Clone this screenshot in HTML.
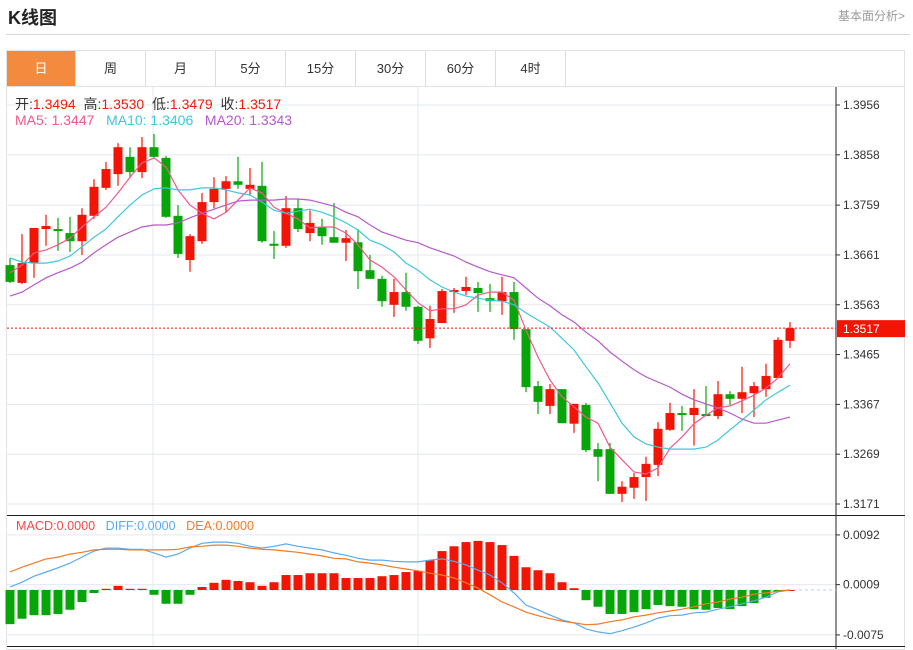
<!DOCTYPE html>
<html><head><meta charset="utf-8"><style>
body{margin:0;background:#fff;width:913px;height:649px;overflow:hidden;font-family:"Liberation Sans","Noto Sans CJK SC",sans-serif;position:relative}
.t{position:absolute}
.tab{position:absolute;top:51px;height:35px;width:70px;border-right:1px solid #ddd;text-align:center;line-height:35px;font-size:13px;color:#333;box-sizing:border-box}
</style></head><body>
<div class="t" style="left:8px;top:4px;font-size:18px;font-weight:bold;color:#222">K线图</div>
<div class="t" style="left:838px;top:7px;font-size:12px;color:#999">基本面分析&gt;</div>
<div class="t" style="left:6px;top:34px;width:904px;height:1px;background:#d6d6d6"></div>
<div class="t" style="left:6px;top:50px;width:899px;height:600px;border:1px solid #e2e2e2;box-sizing:border-box"></div>
<div class="t" style="left:7px;top:86px;width:898px;height:1px;background:#e2e2e2"></div>
<div class="tab" style="left:7px;width:69px;background:#f28b3d;color:#fff">日</div>
<div class="tab" style="left:76px">周</div>
<div class="tab" style="left:146px">月</div>
<div class="tab" style="left:216px">5分</div>
<div class="tab" style="left:286px">15分</div>
<div class="tab" style="left:356px">30分</div>
<div class="tab" style="left:426px">60分</div>
<div class="tab" style="left:496px">4时</div>
<svg id="c" class="t" style="left:0;top:0" width="913" height="649"></svg>
<div class="t" style="left:15px;top:94px;font-size:14px;color:#333">开:<span style="color:#f21a0a">1.3494</span>&nbsp;&nbsp;高:<span style="color:#f21a0a">1.3530</span>&nbsp;&nbsp;低:<span style="color:#f21a0a">1.3479</span>&nbsp;&nbsp;收:<span style="color:#f21a0a">1.3517</span></div>
<div class="t" style="left:15px;top:112px;font-size:14px"><span style="color:#f0598a">MA5: 1.3447</span>&nbsp;&nbsp;&nbsp;<span style="color:#3ec6de">MA10: 1.3406</span>&nbsp;&nbsp;&nbsp;<span style="color:#b659c9">MA20: 1.3343</span></div>
<div class="t" style="left:16px;top:519px;font-size:12.6px"><span style="color:#f24a4a">MACD:0.0000</span>&nbsp;&nbsp;&nbsp;<span style="color:#5aaaf0">DIFF:0.0000</span>&nbsp;&nbsp;&nbsp;<span style="color:#f57a24">DEA:0.0000</span></div>
<script>
const opens=[13641,13606,13645,13712,13712,13704,13688,13738,13793,13820,13854,13824,13873,13852,13738,13651,13688,13765,13791,13806,13791,13797,13683,13679,13753,13704,13716,13696,13685,13686,13631,13614,13563,13588,13559,13497,13527,13588,13590,13596,13576,13570,13588,13515,13403,13364,13397,13329,13366,13279,13279,13191,13203,13224,13248,13317,13350,13346,13348,13344,13387,13378,13389,13397,13419,13492];
const highs=[13655,13702,13714,13740,13734,13736,13753,13810,13844,13881,13873,13893,13899,13856,13759,13702,13783,13814,13816,13854,13832,13844,13708,13777,13771,13749,13732,13763,13710,13712,13661,13620,13614,13626,13561,13561,13594,13596,13618,13608,13604,13618,13608,13515,13413,13407,13397,13368,13370,13291,13291,13216,13232,13264,13332,13370,13364,13397,13403,13413,13393,13441,13411,13447,13499,13529];
const lows=[13606,13604,13616,13679,13669,13667,13661,13732,13789,13797,13814,13812,13852,13734,13655,13628,13683,13753,13745,13791,13779,13685,13653,13675,13706,13688,13681,13685,13649,13594,13614,13559,13539,13551,13486,13478,13527,13547,13582,13549,13549,13543,13494,13391,13348,13348,13330,13311,13273,13216,13191,13175,13181,13177,13226,13315,13315,13286,13344,13338,13366,13350,13342,13382,13419,13478];
const closes=[13608,13645,13714,13718,13708,13688,13740,13795,13830,13873,13824,13873,13854,13736,13663,13698,13765,13791,13806,13799,13799,13688,13679,13753,13712,13724,13698,13685,13694,13629,13614,13570,13588,13559,13492,13535,13590,13592,13598,13586,13570,13588,13515,13401,13372,13397,13330,13368,13277,13264,13191,13205,13224,13250,13319,13350,13346,13360,13344,13387,13378,13391,13403,13423,13494,13517];
const ma5=[13626,13641,13665,13671,13681,13694,13716,13736,13755,13783,13814,13842,13852,13834,13789,13759,13743,13732,13745,13769,13793,13783,13755,13743,13732,13714,13716,13716,13704,13681,13651,13637,13618,13592,13567,13551,13555,13555,13563,13582,13588,13588,13572,13513,13460,13415,13382,13362,13342,13330,13283,13258,13234,13230,13242,13281,13303,13329,13346,13360,13364,13374,13385,13399,13419,13447];
const ma10=[13655,13647,13645,13645,13649,13659,13677,13696,13712,13736,13759,13779,13791,13793,13789,13789,13793,13793,13789,13783,13779,13765,13749,13743,13747,13751,13745,13736,13724,13710,13690,13681,13667,13645,13631,13612,13598,13588,13580,13576,13572,13570,13563,13547,13533,13519,13497,13474,13441,13409,13370,13330,13303,13289,13283,13279,13279,13279,13283,13297,13317,13336,13356,13376,13391,13405];
const ma20=[13580,13588,13602,13616,13626,13635,13647,13665,13681,13696,13706,13716,13720,13720,13724,13734,13743,13751,13759,13767,13769,13769,13769,13771,13771,13769,13763,13757,13745,13736,13720,13706,13698,13690,13685,13675,13667,13659,13647,13637,13628,13622,13616,13596,13576,13561,13543,13529,13509,13492,13470,13452,13435,13421,13411,13401,13387,13376,13368,13360,13350,13338,13330,13330,13336,13342];
const hist=[-57,-48,-42,-42,-40,-33,-20,-5,2,7,2,2,-8,-23,-23,-8,5,12,17,15,13,7,13,25,25,28,28,28,20,20,20,23,25,30,32,50,65,73,80,82,80,75,57,38,33,28,13,3,-17,-28,-40,-40,-37,-32,-25,-27,-28,-32,-33,-30,-32,-27,-22,-13,-3,0];
const diff=[5,13,23,30,37,45,55,65,70,70,68,68,62,55,60,70,78,80,80,78,73,70,73,77,73,70,67,62,58,53,50,50,48,47,47,50,52,48,42,33,25,12,-5,-25,-33,-42,-50,-55,-65,-70,-73,-68,-62,-55,-47,-43,-42,-38,-37,-32,-28,-23,-18,-12,-3,0];
const dea=[30,38,45,52,55,60,63,67,68,68,67,67,67,67,68,72,73,75,75,73,70,68,67,65,63,60,57,53,52,47,45,42,38,35,32,28,25,20,12,3,-8,-20,-28,-37,-43,-48,-52,-55,-58,-57,-53,-50,-45,-42,-38,-35,-32,-28,-23,-20,-15,-12,-7,-5,-2,0];
const priceTicks=[13956,13858,13759,13661,13563,13465,13367,13269,13171];
const macdTicks=[92,9,-75];
const lastPrice=13517;

const svg=document.getElementById('c');const NS='http://www.w3.org/2000/svg';
function el(tag,attrs,parent){const e=document.createElementNS(NS,tag);for(const k in attrs)e.setAttribute(k,attrs[k]);(parent||svg).appendChild(e);return e;}
const xOf=i=>10+i*12;
const yP=p=>105+(13956-p)*0.5083;
const yM=v=>590-v*0.5988;
const RED='#f21404',GREEN='#08a50a';
let g;
priceTicks.forEach(t=>{g=el('line',{x1:7,x2:836,y1:yP(t),y2:yP(t),stroke:'#e3e9ee','stroke-width':1});

g=el('line',{x1:836,x2:840,y1:yP(t),y2:yP(t),stroke:'#333'});

g=el('text',{x:843,y:yP(t)+4,'font-size':12,fill:'#333','font-family':'Liberation Sans'});g.textContent=(t/10000).toFixed(4);
});
macdTicks.forEach(t=>{g=el('line',{x1:7,x2:836,y1:yM(t),y2:yM(t),stroke:'#e3e9ee'});

g=el('line',{x1:836,x2:840,y1:yM(t),y2:yM(t),stroke:'#333'});

g=el('text',{x:843,y:yM(t)+4,'font-size':12,fill:'#333','font-family':'Liberation Sans'});g.textContent=(t/10000).toFixed(4);
});
[153,418].forEach(x=>{g=el('line',{x1:x,x2:x,y1:87,y2:647,stroke:'#e3e9ee'});
});
g=el('line',{x1:836,x2:836,y1:87,y2:649,stroke:'#222'});
g=el('line',{x1:7,x2:905,y1:515.5,y2:515.5,stroke:'#222'});
g=el('line',{x1:7,x2:905,y1:646.5,y2:646.5,stroke:'#222'});
for(let i=0;i<opens.length;i++){const up=closes[i]>=opens[i];const c=up?RED:GREEN;const x=xOf(i);
g=el('line',{x1:x,x2:x,y1:yP(highs[i]),y2:yP(lows[i]),stroke:c,'stroke-width':1.2});

const t=Math.min(yP(opens[i]),yP(closes[i])),h=Math.max(1.5,Math.abs(yP(opens[i])-yP(closes[i])));
g=el('rect',{x:x-4.5,y:t,width:9,height:h,fill:c});
}
function line(arr,f,color,name){const d=arr.map((v,i)=>(i?'L':'M')+xOf(i)+','+f(v).toFixed(1)).join('');
g=el('path',{d:d,fill:'none',stroke:color,'stroke-width':1.2});}
line(ma5,yP,'#f0598a','ma5-line');line(ma10,yP,'#3ec6de','ma10-line');line(ma20,yP,'#b659c9','ma20-line');
g=el('line',{x1:7,x2:836,y1:yP(lastPrice),y2:yP(lastPrice),stroke:'#f21404','stroke-dasharray':'2,2'});

g=el('rect',{x:837,y:yP(lastPrice)-8,width:68,height:17,fill:'#f21404'});

g=el('text',{x:843,y:yP(lastPrice)+5,'font-size':12,fill:'#fff','font-family':'Liberation Sans'});g.textContent=(lastPrice/10000).toFixed(4);

g=el('line',{x1:7,x2:836,y1:yM(0),y2:yM(0),stroke:'#a9d6ee','stroke-dasharray':'3,3'});

hist.forEach((v,i)=>{const y0=yM(0),y1=yM(v);
g=el('rect',{x:xOf(i)-4.5,y:Math.min(y0,y1),width:9,height:Math.max(1,Math.abs(y1-y0)),fill:v>=0?RED:GREEN});
});
line(diff,yM,'#5aaaf0','diff-line');line(dea,yM,'#f57a24','dea-line');
</script>
</body></html>
